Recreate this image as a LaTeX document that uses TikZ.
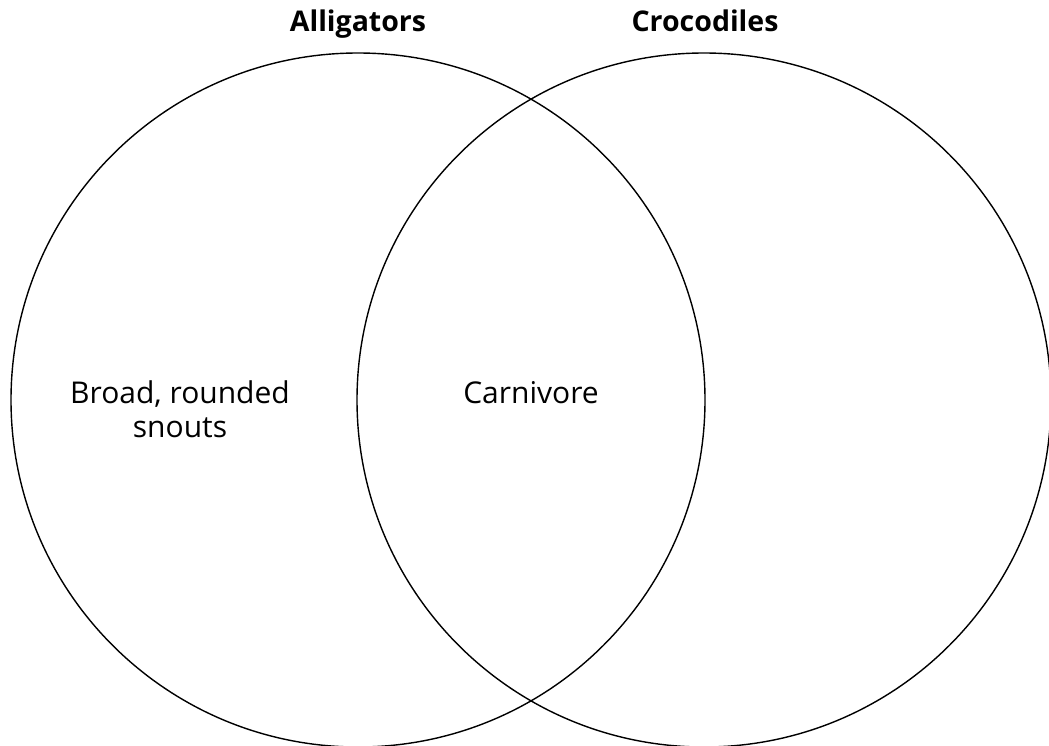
\documentclass[tikz,border=0pt]{standalone}
\usepackage{fontspec}
\setmainfont{Open Sans}
\begin{document}
\begin{tikzpicture}[x=1pt,y=-1pt,
  ring/.style={draw=black,line width=1.4pt},
  title/.style={font=\fontsize{28.5}{34}\selectfont\bfseries,anchor=base},
  body/.style={font=\fontsize{30}{34}\selectfont,align=center,anchor=base}]
\useasboundingbox (0,0) rectangle (1049,746);
\begin{scope}
\clip (0,0) rectangle (1049,746);
\node[ring,circle,minimum size=694pt,inner sep=0pt] (left) at (358,400) {};
\node[ring,circle,minimum size=694pt,inner sep=0pt] (right) at (704,400) {};
\end{scope}
\node[title] (ta) at (358,32) {Alligators};
\node[title] (tc) at (705,32) {Crocodiles};
\node[body] (la) at (180,437) {Broad, rounded\\snouts};
\node[body] (lc) at (531,403) {Carnivore};
\end{tikzpicture}
\end{document}
